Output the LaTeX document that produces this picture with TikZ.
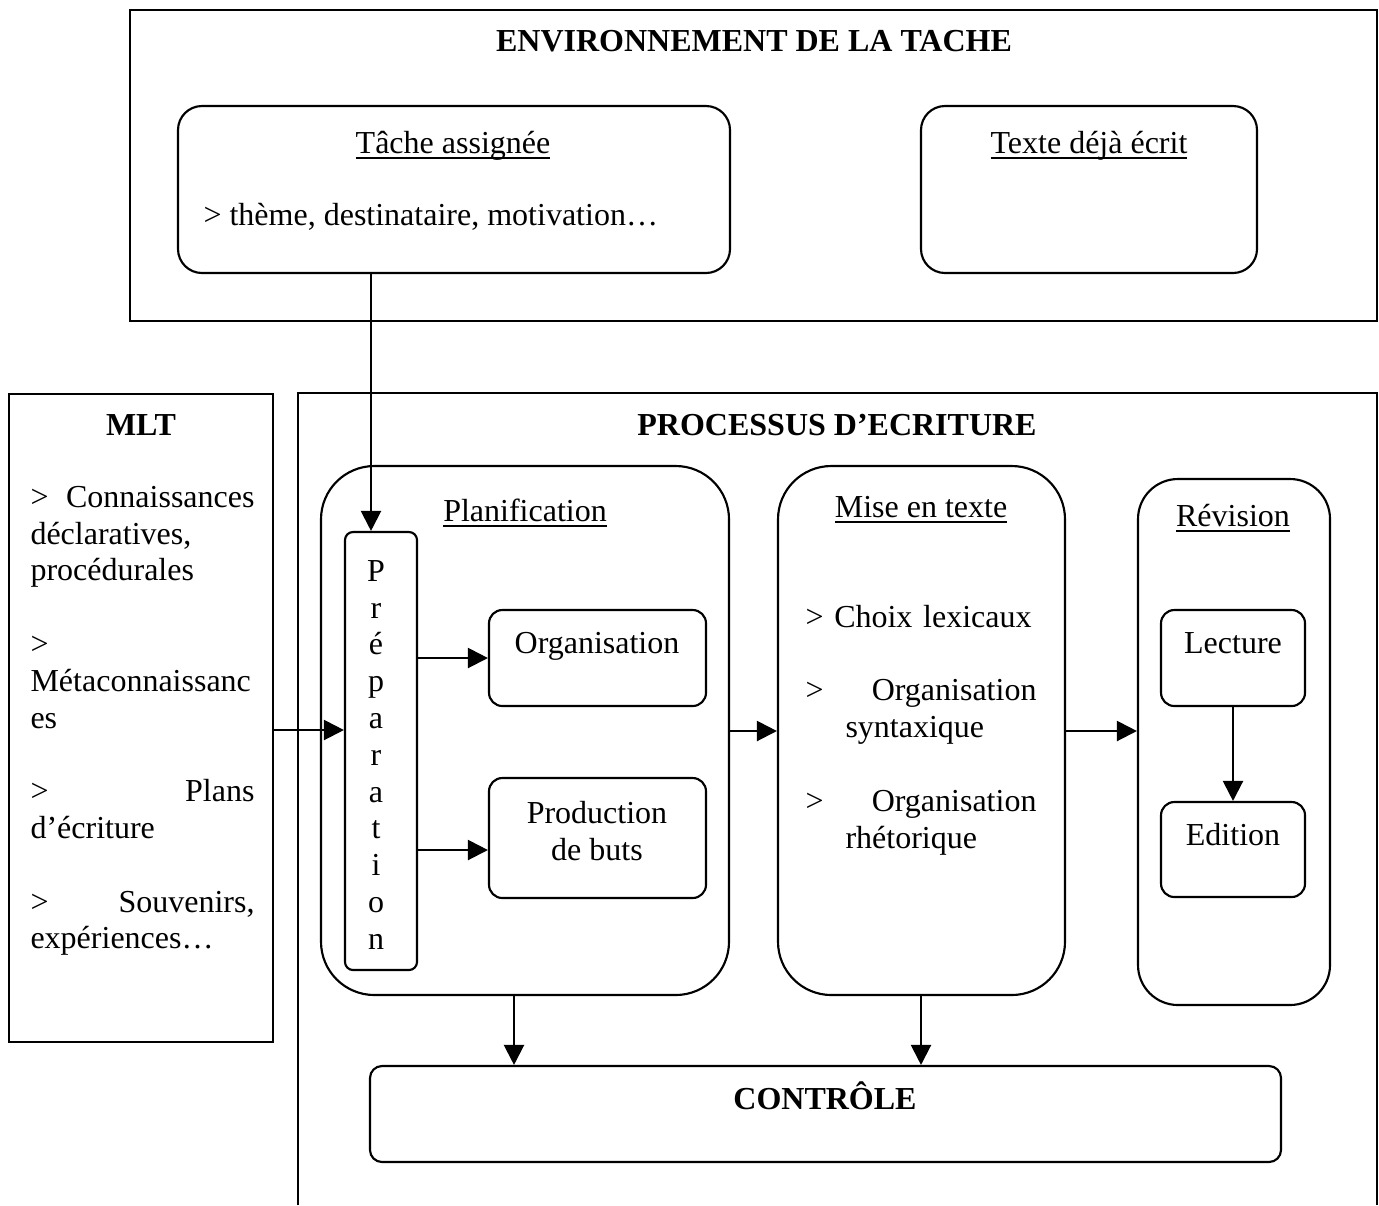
\documentclass[tikz,border=0pt]{standalone}
\usepackage{fontspec}
\setmainfont{Liberation Serif}
\newsavebox\myulbox
\newcommand\myul[1]{\sbox\myulbox{#1}\rlap{\rule[-2.1pt]{\wd\myulbox}{0.6pt}}\usebox\myulbox}
\usetikzlibrary{arrows.meta,fit}
\begin{document}
\begin{tikzpicture}[x=0.375pt,y=-0.375pt,
  every node/.style={font=\fontsize{12}{13.8}\selectfont},
  frame/.style={draw, line width=0.8pt, inner sep=0pt},
  rbox/.style={frame, rounded corners=#1},
  lbl/.style={anchor=base, inner sep=0pt},
  title/.style={lbl, font=\fontsize{12}{13.8}\selectfont\bfseries},
  para/.style={anchor=north west, inner sep=0pt, align=left, text width=#1},
  stack/.style={anchor=north, inner sep=0pt, align=center},
  arr/.style={draw, line width=0.8pt, -{Triangle[length=7.5pt,width=7.5pt]}}]
\useasboundingbox (0,0) rectangle (1379,1205);

% Environnement de la tache
\node[frame, fit={(130,10) (1377,321)}] (env) {};
\node[title] (envt) at (754,51) {ENVIRONNEMENT DE LA TACHE};
\node[rbox=9pt, fit={(178,106) (730,273)}] (task) {};
\node[lbl] (taskt) at (453,153) {\myul{Tâche assignée}};
\node[lbl, anchor=base west] (taskc) at (203,225) {> thème, destinataire, motivation…};
\node[rbox=9pt, fit={(921,106) (1257,273)}] (texte) {};
\node[lbl] (textet) at (1089,153) {\myul{Texte déjà écrit}};

% MLT
\node[frame, fit={(9,394) (273,1042)}] (mlt) {};
\node[title] (mltt) at (141,435) {MLT};
\node[para=84pt] (mltc) at (30,481) {\strut> \hfill \mbox{Connaissances}\\ \mbox{déclaratives,}\\ \mbox{procédurales}\\[13.8pt] >\\ \mbox{Métaconnaissanc}\\ es\\[13.8pt] > \hfill Plans\\ \mbox{d’écriture}\\[13.8pt] > \hfill \mbox{Souvenirs,}\\ \mbox{expériences…}};

% Processus d'ecriture
\draw[line width=0.8pt] (298,1205) -- (298,393) -- (1377,393) -- (1377,1205);
\node[title] (proct) at (837,435) {PROCESSUS D’ECRITURE};

% Planification
\node[rbox=20pt, fit={(321,466) (729,995)}] (plan) {};
\node[lbl] (plant) at (525,521) {\myul{Planification}};
\node[rbox=3pt, fit={(345,532) (417,970)}] (prep) {};
\node[stack] (prept) at (376,555) {\strut P\\r\\é\\p\\a\\r\\a\\t\\i\\o\\n};
\node[rbox=5pt, fit={(489,610) (706,706)}] (org) {};
\node[lbl] (orgt) at (597,653) {Organisation};
\node[rbox=5pt, fit={(489,778) (706,898)}] (prod) {};
\node[stack] (prodt) at (597,797) {\strut Production\\ de buts};

% Mise en texte
\node[rbox=20pt, fit={(778,466) (1065,995)}] (mise) {};
\node[lbl] (miset) at (921,517) {\myul{Mise en texte}};
\node[para=86.6pt] (misec) at (805,601) {\strut\mbox{> Choix lexicaux}\\[13.8pt] > \hfill Organisation\\ \hspace*{15pt}syntaxique\\[13.8pt] > \hfill Organisation\\ \hspace*{15pt}rhétorique};

% Revision
\node[rbox=15pt, fit={(1138,479) (1330,1005)}] (rev) {};
\node[lbl] (revt) at (1233,526) {\myul{Révision}};
\node[rbox=5pt, fit={(1161,610) (1305,706)}] (lect) {};
\node[lbl] (lectt) at (1233,653) {Lecture};
\node[rbox=5pt, fit={(1161,802) (1305,897)}] (edit) {};
\node[lbl] (editt) at (1233,845) {Edition};

% Controle
\node[rbox=4.5pt, fit={(370,1066) (1281,1162)}] (ctrl) {};
\node[title] (ctrlt) at (825,1109) {CONTRÔLE};

% Connectors
\coordinate (xa) at (371,0);
\coordinate (xb) at (514,0);
\coordinate (xc) at (921,0);
\coordinate (ya) at (0,730);
\coordinate (yb) at (0,850);
\coordinate (yc) at (0,731);
\draw[arr] (task.south -| xa) -- (prep.north -| xa);
\draw[arr] (mlt.east |- ya) -- (prep.west |- ya);
\draw[arr] (prep.east |- org.west) -- (org.west);
\draw[arr] (prep.east |- yb) -- (prod.west |- yb);
\draw[arr] (plan.east |- yc) -- (mise.west |- yc);
\draw[arr] (mise.east |- yc) -- (rev.west |- yc);
\draw[arr] (lect.south) -- (edit.north);
\draw[arr] (plan.south -| xb) -- (ctrl.north -| xb);
\draw[arr] (mise.south -| xc) -- (ctrl.north -| xc);
\end{tikzpicture}
\end{document}
